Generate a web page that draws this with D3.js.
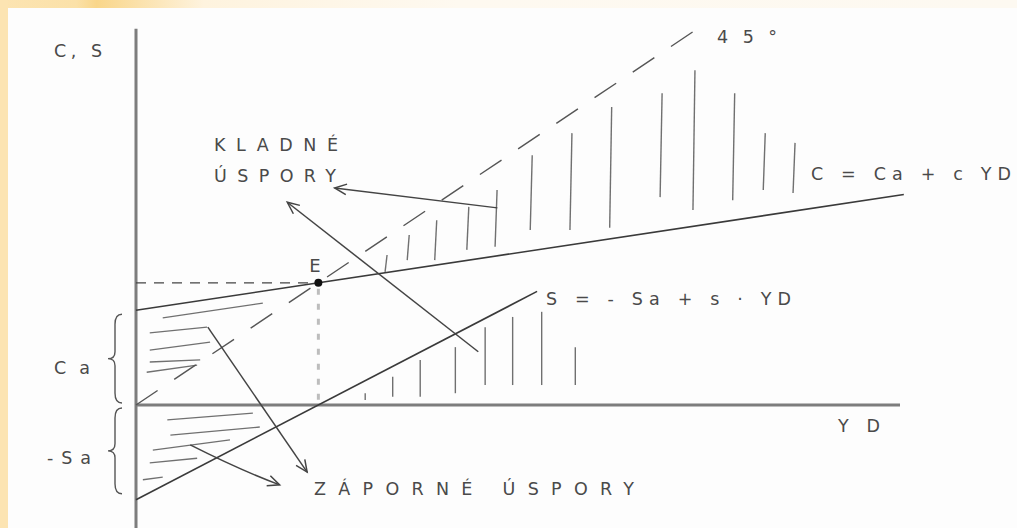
<!DOCTYPE html>
<html>
<head>
<meta charset="utf-8">
<script src="https://cdn.jsdelivr.net/npm/d3@7"></script>
<style>
  html, body { margin: 0; padding: 0; background: #fdfdfd; }
  svg { display: block; }
  text { font-family: "DejaVu Sans", sans-serif; fill: #4a4a4a; }
</style>
</head>
<body>
<svg id="chart" width="1017" height="528"></svg>
<script>
// ---------- data ----------
const autonomousConsumption = 18.5;      // Ca
const marginalConsumption = 0.225;       // c
const autonomousSaving = 18.5;           // Sa
const marginalSaving = 0.775;            // s
const consumptionLineYD = [0, 100.5];
const savingLineYD = [0, 52.5];
const line45YD = [0, 73.5];
const xAxisExtent = [0, 100];
const yAxisExtent = [-24, 73.5];

// upper hatching (vertical strokes, positive savings region): YD, top, bottom
const upperHatchYD     = [32.6, 35.5, 39.1, 43.3, 47.0, 51.6, 56.8, 62.0, 68.6, 72.9, 78.1, 82.1, 86.0];
const upperHatchTop    = [29.3, 33.2, 36.1, 38.7, 42.0, 48.8, 53.1, 58.2, 60.9, 65.4, 60.9, 53.1, 51.2];
const upperHatchBottom = [26.0, 28.3, 28.3, 30.3, 30.9, 34.2, 34.2, 34.6, 40.6, 38.1, 40.0, 42.0, 41.4];

// lower hatching (vertical strokes between S line and YD axis)
const lowerHatchYD     = [30.0, 33.6, 37.2, 41.8, 45.7, 49.3, 53.1, 57.5];
const lowerHatchTop    = [2.3, 5.5, 8.8, 11.3, 15.2, 17.2, 18.2, 11.3];
const lowerHatchBottom = [1.0, 1.6, 1.6, 2.3, 3.9, 3.9, 3.9, 3.9];

// left hatching (near-horizontal strokes, negative savings region): x1, y1, x2, y2
const leftHatchX1 = [3.5, 1.8, 1.8, 1.8, 1.4, 4.1, 4.5, 2.2, 1.8, 0.9];
const leftHatchY1 = [17.0, 14.1, 10.7, 8.4, 6.4, -2.9, -5.9, -8.8, -11.3, -14.6];
const leftHatchX2 = [16.6, 9.3, 9.7, 8.4, 8.0, 15.3, 16.2, 12.3, 8.0, 3.5];
const leftHatchY2 = [19.9, 15.2, 12.3, 8.8, 7.8, -1.6, -4.3, -6.8, -10.4, -14.1];

// annotation arrows: from (x1,y1) to head (x2,y2)
const arrowFromYD  = [47.3, 44.8, 9.4];
const arrowFromVal = [38.5, 10.4, 15.2];
const arrowToYD    = [26.0, 19.8, 22.4];
const arrowToVal   = [42.4, 39.6, -13.1];
// curved arrow: start, control, end
const curveArrowYD  = [7.1, 13.6, 18.8];
const curveArrowVal = [-7.8, -12.7, -15.6];

// texts
const axisLabels = ["C, S", "YD"];
const lineLabels = ["C = Ca + c YD", "S = - Sa + s · YD", "45°"];
const braceLabels = ["Ca", "-Sa"];
const noteLabels = ["KLADNÉ", "ÚSPORY", "ZÁPORNÉ  ÚSPORY"];
const pointLabel = "E";

// ---------- scales ----------
const x = d3.scaleLinear().domain([0, 100]).range([136, 900]);
const y = d3.scaleLinear().domain([0, 75]).range([405, 21]);

const svg = d3.select("#chart");

// ---------- slide frame ----------
const defs = svg.append("defs");
const grad = defs.append("linearGradient").attr("id", "topband").attr("x1", "0").attr("x2", "1").attr("y1", "0").attr("y2", "0");
grad.append("stop").attr("offset", "0").attr("stop-color", "#fce4b2");
grad.append("stop").attr("offset", "0.075").attr("stop-color", "#fbe1a8");
grad.append("stop").attr("offset", "0.095").attr("stop-color", "#f9d68a");
grad.append("stop").attr("offset", "0.2").attr("stop-color", "#fef3de");
grad.append("stop").attr("offset", "0.45").attr("stop-color", "#fef9f0");
grad.append("stop").attr("offset", "1").attr("stop-color", "#fdf9f1");
svg.append("rect").attr("width", 1017).attr("height", 528).attr("fill", "#fdfdfd");
svg.append("rect").attr("x", 0).attr("y", 0).attr("width", 1017).attr("height", 8).attr("fill", "url(#topband)");
svg.append("rect").attr("x", 0).attr("y", 0).attr("width", 8).attr("height", 528).attr("fill", "#fce4b2");

const g = svg.append("g");
const ink = "#3a3a3a";

// ---------- hatching ----------
g.selectAll("line.uh").data(upperHatchYD).join("line").attr("class", "uh")
  .attr("x1", (d, i) => x(d)).attr("x2", (d, i) => x(d) + 2)
  .attr("y1", (d, i) => y(upperHatchBottom[i])).attr("y2", (d, i) => y(upperHatchTop[i]))
  .attr("stroke", "#707070").attr("stroke-width", 1.4);

g.selectAll("line.lh").data(lowerHatchYD).join("line").attr("class", "lh")
  .attr("x1", d => x(d)).attr("x2", d => x(d))
  .attr("y1", (d, i) => y(lowerHatchBottom[i])).attr("y2", (d, i) => y(lowerHatchTop[i]))
  .attr("stroke", "#707070").attr("stroke-width", 1.4);

g.selectAll("line.sh").data(leftHatchX1).join("line").attr("class", "sh")
  .attr("x1", d => x(d)).attr("y1", (d, i) => y(leftHatchY1[i]))
  .attr("x2", (d, i) => x(leftHatchX2[i])).attr("y2", (d, i) => y(leftHatchY2[i]))
  .attr("stroke", "#707070").attr("stroke-width", 1.3);

// ---------- axes ----------
g.append("line").attr("x1", x(0)).attr("x2", x(0)).attr("y1", y(yAxisExtent[1])).attr("y2", y(yAxisExtent[0]))
  .attr("stroke", "#7d7d7d").attr("stroke-width", 3);
g.append("line").attr("x1", x(xAxisExtent[0])).attr("x2", x(xAxisExtent[1])).attr("y1", y(0)).attr("y2", y(0))
  .attr("stroke", "#7d7d7d").attr("stroke-width", 3);

// ---------- functions ----------
const line = d3.line().x(d => x(d[0])).y(d => y(d[1]));
const cons = yd => autonomousConsumption + marginalConsumption * yd;
const sav = yd => -autonomousSaving + marginalSaving * yd;
const eYD = autonomousConsumption / (1 - marginalConsumption);

g.append("path").attr("d", line(line45YD.map(d => [d, d])))
  .attr("fill", "none").attr("stroke", "#555").attr("stroke-width", 1.4).attr("stroke-dasharray", "26 20");
g.append("path").attr("d", line(consumptionLineYD.map(d => [d, cons(d)])))
  .attr("fill", "none").attr("stroke", ink).attr("stroke-width", 1.6);
g.append("path").attr("d", line(savingLineYD.map(d => [d, sav(d)])))
  .attr("fill", "none").attr("stroke", ink).attr("stroke-width", 1.6);

// guides to E
g.append("line").attr("x1", x(0)).attr("x2", x(eYD)).attr("y1", y(eYD)).attr("y2", y(eYD))
  .attr("stroke", "#444").attr("stroke-width", 1.2).attr("stroke-dasharray", "10 8");
g.append("line").attr("x1", x(eYD)).attr("x2", x(eYD)).attr("y1", y(eYD) + 6).attr("y2", y(0))
  .attr("stroke", "#bdbdbd").attr("stroke-width", 3).attr("stroke-dasharray", "6 9");
g.append("circle").attr("cx", x(eYD)).attr("cy", y(eYD)).attr("r", 4).attr("fill", "#111");
g.append("text").attr("x", x(eYD) - 9).attr("y", y(eYD) - 11).attr("font-size", 18).text(pointLabel);

// ---------- arrows ----------
function arrowHead(x1, y1, x2, y2) {
  const a = Math.atan2(y2 - y1, x2 - x1);
  const L = 13, sp = 0.42;
  const p = d3.path();
  p.moveTo(x2 - L * Math.cos(a - sp), y2 - L * Math.sin(a - sp));
  p.lineTo(x2, y2);
  p.lineTo(x2 - L * Math.cos(a + sp), y2 - L * Math.sin(a + sp));
  return p.toString();
}
arrowFromYD.forEach((d, i) => {
  const x1 = x(d), y1 = y(arrowFromVal[i]), x2 = x(arrowToYD[i]), y2 = y(arrowToVal[i]);
  g.append("line").attr("x1", x1).attr("y1", y1).attr("x2", x2).attr("y2", y2)
    .attr("stroke", "#444").attr("stroke-width", 1.5);
  g.append("path").attr("d", arrowHead(x1, y1, x2, y2)).attr("fill", "none")
    .attr("stroke", "#444").attr("stroke-width", 1.5);
});
{
  const p = d3.path();
  const [a, b, c] = [0, 1, 2].map(i => [x(curveArrowYD[i]), y(curveArrowVal[i])]);
  p.moveTo(a[0], a[1]);
  p.quadraticCurveTo(b[0], b[1], c[0], c[1]);
  g.append("path").attr("d", p.toString()).attr("fill", "none").attr("stroke", "#444").attr("stroke-width", 1.5);
  g.append("path").attr("d", arrowHead(b[0], b[1], c[0], c[1])).attr("fill", "none")
    .attr("stroke", "#444").attr("stroke-width", 1.5);
}

// ---------- braces ----------
function brace(xr, ya, yb) {
  const mid = (ya + yb) / 2, w = 7;
  const p = d3.path();
  p.moveTo(xr, ya);
  p.quadraticCurveTo(xr - w, ya, xr - w, ya + 10);
  p.lineTo(xr - w, mid - 7);
  p.quadraticCurveTo(xr - w, mid, xr - 2 * w, mid);
  p.quadraticCurveTo(xr - w, mid, xr - w, mid + 7);
  p.lineTo(xr - w, yb - 10);
  p.quadraticCurveTo(xr - w, yb, xr, yb);
  return p.toString();
}
g.append("path").attr("d", brace(x(0) - 14, y(autonomousConsumption) + 4, y(0) - 2))
  .attr("fill", "none").attr("stroke", "#555").attr("stroke-width", 1.4);
g.append("path").attr("d", brace(x(0) - 14, y(0) + 3, y(-autonomousSaving) - 6))
  .attr("fill", "none").attr("stroke", "#555").attr("stroke-width", 1.4);

// ---------- texts ----------
function hand(sel, width) {
  return sel.attr("font-size", 17.5).attr("fill", "#4d4d4d")
    .attr("textLength", width).attr("lengthAdjust", "spacing");
}
hand(g.append("text").attr("x", 54).attr("y", 57).text(axisLabels[0]), 48);
hand(g.append("text").attr("x", 838).attr("y", 432).text(axisLabels[1]), 42);
hand(g.append("text").attr("x", 811).attr("y", 180).text(lineLabels[0]), 200);
hand(g.append("text").attr("x", 546).attr("y", 305).text(lineLabels[1]), 245);
hand(g.append("text").attr("x", 717).attr("y", 43).text(lineLabels[2]), 60);
hand(g.append("text").attr("x", 54).attr("y", 374).text(braceLabels[0]), 36);
hand(g.append("text").attr("x", 47).attr("y", 464).text(braceLabels[1]), 44);
hand(g.append("text").attr("x", 214).attr("y", 151).text(noteLabels[0]), 124);
hand(g.append("text").attr("x", 214).attr("y", 182).text(noteLabels[1]), 122);
hand(g.append("text").attr("x", 314).attr("y", 495).text(noteLabels[2]), 320);
</script>
</body>
</html>
